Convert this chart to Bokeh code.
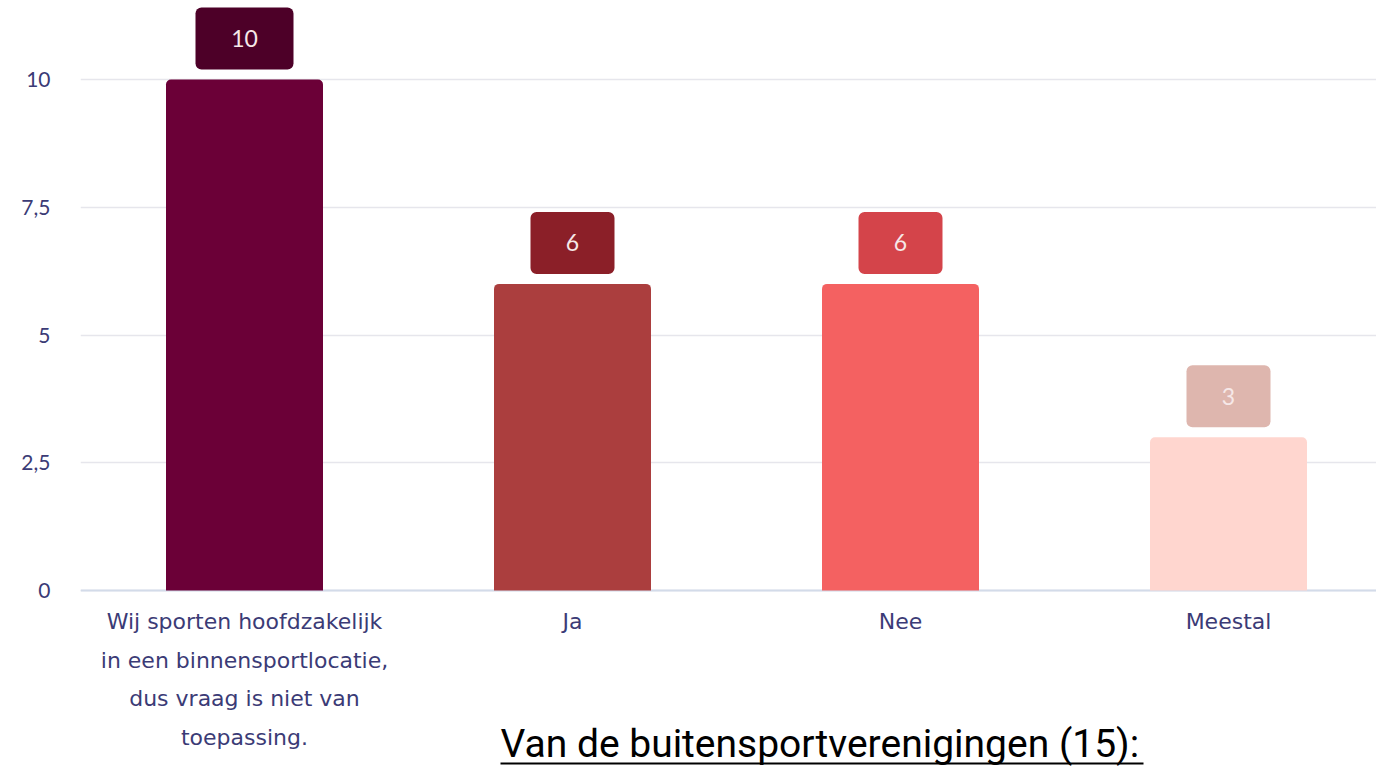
from bokeh.plotting import figure
from bokeh.models import ColumnDataSource, FixedTicker, Range1d, Span
from bokeh.core.properties import value
from bokeh.embed import file_html
from bokeh.resources import INLINE

# ---- data ----
categories = [
    "Wij sporten hoofdzakelijk\nin een binnensportlocatie,\ndus vraag is niet van\ntoepassing.",
    "Ja",
    "Nee",
    "Meestal",
]
counts = [10, 6, 6, 3]
bar_colors = ["#6b0037", "#ab3e3e", "#f46161", "#ffd6cf"]
box_colors = ["#4d0028", "#8b1f28", "#d4444a", "#deb6ae"]
y_ticks = [0, 2.5, 5, 7.5, 10]
y_tick_labels = ["0", "2,5", "5", "7,5", "10"]
title_text = "Van de buitensportverenigingen (15):"

# ---- layout constants (pixels) ----
W, H = 1376, 775
LEFT = 80            # frame left edge
BASE = 590           # pixel row of value 0 inside figure
SLOT = 328           # px per category
PX = 51.1            # px per value unit
FONT = value("Lato")
TXT = "#3b3b76"

x0 = -0.5
x1 = x0 + (W - LEFT) / SLOT
y1 = BASE / PX
y0 = -(H - BASE) / PX

p = figure(width=W, height=H, x_range=Range1d(x0, x1), y_range=Range1d(y0, y1),
           output_backend="svg", toolbar_location=None, x_axis_location=None,
           min_border_left=LEFT, min_border_right=0, min_border_top=0, min_border_bottom=0)
p.outline_line_color = None
p.background_fill_color = "white"
p.border_fill_color = "white"

ax = p.yaxis[0]
ax.ticker = FixedTicker(ticks=y_ticks)
ax.major_label_overrides = {t: l for t, l in zip(y_ticks, y_tick_labels)}
ax.axis_line_color = None
ax.major_tick_line_color = None
ax.minor_tick_line_color = None
ax.major_tick_out = 0
ax.major_label_standoff = 30
ax.major_label_text_font = "Lato"
ax.major_label_text_font_size = "21px"
ax.major_label_text_color = TXT

p.xgrid.visible = False
p.ygrid.grid_line_color = "#e6e6ec"
p.ygrid.grid_line_width = 1.5

p.add_layout(Span(location=0, dimension="width", line_color="#d3dbe9", line_width=2, level="underlay"))

xs = list(range(len(categories)))
bars = ColumnDataSource(dict(x=xs, top=counts, color=bar_colors))
p.vbar(x="x", top="top", bottom=0, width=157 / SLOT, source=bars,
       fill_color="color", line_color=None, border_radius=(5, 5, 0, 0))

box_b = [c + 10 / PX for c in counts]
box_t = [b + 62 / PX for b in box_b]
box_w = [(70 + 14 * len(str(c))) / SLOT for c in counts]
boxes = ColumnDataSource(dict(x=xs, bottom=box_b, top=box_t, w=box_w, color=box_colors,
                              ym=[(b + t) / 2 for b, t in zip(box_b, box_t)],
                              label=[str(c) for c in counts]))
p.vbar(x="x", bottom="bottom", top="top", width="w", source=boxes,
       fill_color="color", line_color=None, border_radius=6)
p.text(x="x", y="ym", text="label", source=boxes, text_align="center",
       text_baseline="middle", text_font=FONT, text_font_size="23px", text_color="#f6e8e8")

lx, ly, lt = [], [], []
for i, cat in enumerate(categories):
    for j, line in enumerate(cat.split("\n")):
        lx.append(i)
        ly.append(-(31 + 38.7 * j) / PX)
        lt.append(line)
p.text(x=lx, y=ly, text=lt, text_align="center", text_baseline="middle",
       text_font=value("DejaVu Sans"), text_font_size="22px", text_color=TXT)

tx = x0 + (500 - 80) / SLOT
p.text(x=[tx], y=[-(743 - 590) / PX], text=[title_text], text_align="left",
       text_baseline="middle", text_font=value("Roboto"),
       text_font_size="39px", text_color="#000000")
p.segment(x0=[tx], y0=[-(763 - 590) / PX], x1=[tx + 643 / SLOT], y1=[-(763 - 590) / PX],
          line_color="#000000", line_width=2)

open("out.html", "w").write(file_html(p, INLINE))
